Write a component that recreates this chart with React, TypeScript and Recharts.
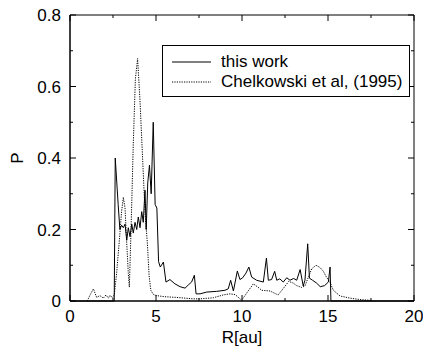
import { LineChart, Line, XAxis, YAxis, Legend, ReferenceArea, ReferenceLine } from 'recharts';

// "this work" -- R[au] positions and probability P
const WORK_R = [
  0, 2.57, 2.63, 2.8, 2.9, 3.0, 3.1, 3.2, 3.3, 3.39, 3.49, 3.59, 3.68, 3.78, 3.88, 3.97,
  4.07, 4.17, 4.26, 4.36, 4.43, 4.52, 4.62, 4.72, 4.84, 4.95, 5.05, 5.15, 5.25, 5.43,
  5.58, 5.81, 6.1, 6.4, 6.69, 6.88, 7.07, 7.23, 7.33, 7.56, 7.95, 8.53, 9.01, 9.2, 9.34,
  9.5, 9.73, 9.88, 10.04, 10.23, 10.4, 10.56, 10.85, 11.24, 11.42, 11.53, 11.72, 11.9,
  12.02, 12.2, 12.4, 12.6, 12.79, 13.0, 13.18, 13.38, 13.56, 13.66, 13.82, 13.92, 14.1,
  14.34, 14.55, 14.8, 15.02, 15.12, 15.17, 20,
];
const WORK_P = [
  0, 0, 0.4, 0.27, 0.2, 0.212, 0.205, 0.215, 0.17, 0.205, 0.18, 0.215, 0.19, 0.22, 0.2, 0.235,
  0.205, 0.25, 0.22, 0.31, 0.2, 0.33, 0.38, 0.3, 0.5, 0.27, 0.26, 0.11, 0.095, 0.109,
  0.053, 0.06, 0.048, 0.04, 0.036, 0.045, 0.053, 0.072, 0.02, 0.02, 0.025, 0.027, 0.03, 0.034, 0.058,
  0.028, 0.084, 0.06, 0.065, 0.078, 0.095, 0.067, 0.058, 0.053, 0.12, 0.058, 0.06, 0.083,
  0.058, 0.062, 0.053, 0.065, 0.058, 0.063, 0.058, 0.088, 0.042, 0.058, 0.16, 0.064, 0.058,
  0.05, 0.04, 0.043, 0.053, 0.095, 0, 0,
];

// Chelkowski et al (1995)
const CHEL_R = [
  1.0, 1.2, 1.36, 1.55, 1.74, 1.94, 2.09, 2.23, 2.33, 2.48, 2.58, 2.71, 2.87, 3.0, 3.1, 3.2,
  3.29, 3.39, 3.45, 3.55, 3.68, 3.8, 3.93, 4.07, 4.22, 4.36, 4.5, 4.6, 4.7, 4.85, 5.04,
  5.5, 6.2, 7.17, 7.56, 8.33, 8.91, 9.3, 9.6, 9.98, 10.27, 10.66, 11.0, 11.14, 11.63, 12.1,
  12.4, 12.72, 12.98, 13.18, 13.47, 13.66, 13.86, 14.05, 14.3, 14.53, 14.73, 14.92, 15.12,
  15.31, 15.7, 16.28, 16.86, 17.44, 17.55,
];
const CHEL_P = [
  0, 0.02, 0.034, 0.01, 0.015, 0.008, 0.017, 0.008, 0.016, 0.008, 0.02, 0.077, 0.17, 0.25, 0.29, 0.26,
  0.17, 0.077, 0.039, 0.2, 0.44, 0.62, 0.678, 0.56, 0.4, 0.25, 0.16, 0.07, 0.03, 0.018, 0.015,
  0.012, 0.01, 0.006, 0.006, 0.009, 0.017, 0.02, 0.018, 0.002, 0.022, 0.048, 0.036, 0.03, 0.028, 0.017,
  0.035, 0.055, 0.05, 0.043, 0.038, 0.042, 0.067, 0.09, 0.1, 0.094, 0.083, 0.066, 0.052,
  0.03, 0.014, 0.008, 0.004, 0.002, 0,
];

const X_MAJOR = [0, 5, 10, 15, 20];
const X_MINOR = [2.5, 7.5, 12.5, 17.5];
const Y_MAJOR = [0, 0.2, 0.4, 0.6, 0.8];
const Y_MINOR = [0.1, 0.3, 0.5, 0.7];

const work = WORK_R.map((r, i) => ({ r, p: WORK_P[i] }));
const chel = CHEL_R.map((r, i) => ({ r, p: CHEL_P[i] }));

const FONT = '"Liberation Sans", Arial, Helvetica, sans-serif';
const tickStyle = { fill: '#000', fontSize: 17, fontFamily: FONT };

// inward tick lengths in data units (plot is ~344 x 286 px)
const PX_X = 20 / 344;
const PX_Y = 0.8 / 286;

// gnuplot-style inward ticks on all four sides, majors 6px, minors 3px
function frameTicks() {
  const segs: any[] = [];
  X_MAJOR.forEach((v) => segs.push([{ x: v, y: 0 }, { x: v, y: 6 * PX_Y }]));
  X_MINOR.forEach((v) => segs.push([{ x: v, y: 0 }, { x: v, y: 3 * PX_Y }]));
  X_MAJOR.forEach((v) => segs.push([{ x: v, y: 0.8 }, { x: v, y: 0.8 - 6 * PX_Y }]));
  X_MINOR.forEach((v) => segs.push([{ x: v, y: 0.8 }, { x: v, y: 0.8 - 3 * PX_Y }]));
  Y_MAJOR.forEach((v) => segs.push([{ x: 0, y: v }, { x: 6 * PX_X, y: v }]));
  Y_MINOR.forEach((v) => segs.push([{ x: 0, y: v }, { x: 3 * PX_X, y: v }]));
  Y_MAJOR.forEach((v) => segs.push([{ x: 20, y: v }, { x: 20 - 6 * PX_X, y: v }]));
  Y_MINOR.forEach((v) => segs.push([{ x: 20, y: v }, { x: 20 - 3 * PX_X, y: v }]));
  return segs.map((s, i) => (
    <ReferenceLine key={i} segment={s} stroke="#000" strokeWidth={1} ifOverflow="visible" />
  ));
}

function LegendBox() {
  const row = { display: 'flex', alignItems: 'center', height: 20 };
  return (
    <div style={{
      border: '1px solid #000', width: 248, height: 52, boxSizing: 'border-box',
      paddingTop: 6, fontFamily: FONT, fontSize: 17, color: '#000', background: '#fff',
    }}>
      <div style={row}>
        <svg width={58} height={20}>
          <line x1={9} y1={10} x2={48} y2={10} stroke="#000" strokeWidth={1} />
        </svg>
        <span>this work</span>
      </div>
      <div style={row}>
        <svg width={58} height={20}>
          <line x1={9} y1={10} x2={48} y2={10} stroke="#000" strokeWidth={1} strokeDasharray="1.2 1.2" />
        </svg>
        <span>Chelkowski et al, (1995)</span>
      </div>
    </div>
  );
}

// rotated "P" centred beside the left axis
function YLabel(props: any) {
  const vb = props.viewBox;
  const cx = vb.x + 17;
  const cy = vb.y + vb.height / 2;
  return (
    <text x={cx} y={cy} transform={`rotate(-90 ${cx} ${cy})`} textAnchor="middle"
      dominantBaseline="central" fontSize={17} fontFamily={FONT} fill="#000">P</text>
  );
}

// "R[au]" centred under the plot, baseline near the bottom edge
function XLabel(props: any) {
  const vb = props.viewBox;
  return (
    <text x={vb.x + vb.width / 2} y={vb.y + vb.height - 6} textAnchor="middle"
      fontSize={17} fontFamily={FONT} fill="#000">R[au]</text>
  );
}

export default function App() {
  return (
    <div style={{ position: 'absolute', left: 0, top: 0, background: '#fff' }}>
      <LineChart width={423} height={349} data={work} margin={{ top: 15, right: 9, bottom: 0, left: 0 }}>
        <XAxis dataKey="r" type="number" domain={[0, 20]} ticks={X_MAJOR} interval={0}
          height={48} tickLine={false} tickMargin={3} stroke="#000" tick={tickStyle}
          label={{ content: XLabel }} />
        <YAxis dataKey="p" type="number" domain={[0, 0.8]} ticks={Y_MAJOR} interval={0} width={70}
          tickLine={false} tickMargin={3} stroke="#000" tick={tickStyle}
          label={{ content: YLabel }} />

        {/* plot frame */}
        <ReferenceArea x1={0} x2={20} y1={0} y2={0.8} fill="none" stroke="#000" strokeWidth={1} ifOverflow="visible" />
        {frameTicks()}

        <Legend content={<LegendBox />} layout="horizontal" verticalAlign="middle" align="center"
          wrapperStyle={{ top: 45, left: 162, width: 248, height: 52 }} />

        <Line data={work} dataKey="p" type="linear" stroke="#000" strokeWidth={1}
          dot={false} isAnimationActive={false} />
        <Line data={chel} dataKey="p" type="linear" stroke="#000" strokeWidth={1}
          strokeDasharray="1.2 1.2" dot={false} isAnimationActive={false} />
      </LineChart>
    </div>
  );
}
